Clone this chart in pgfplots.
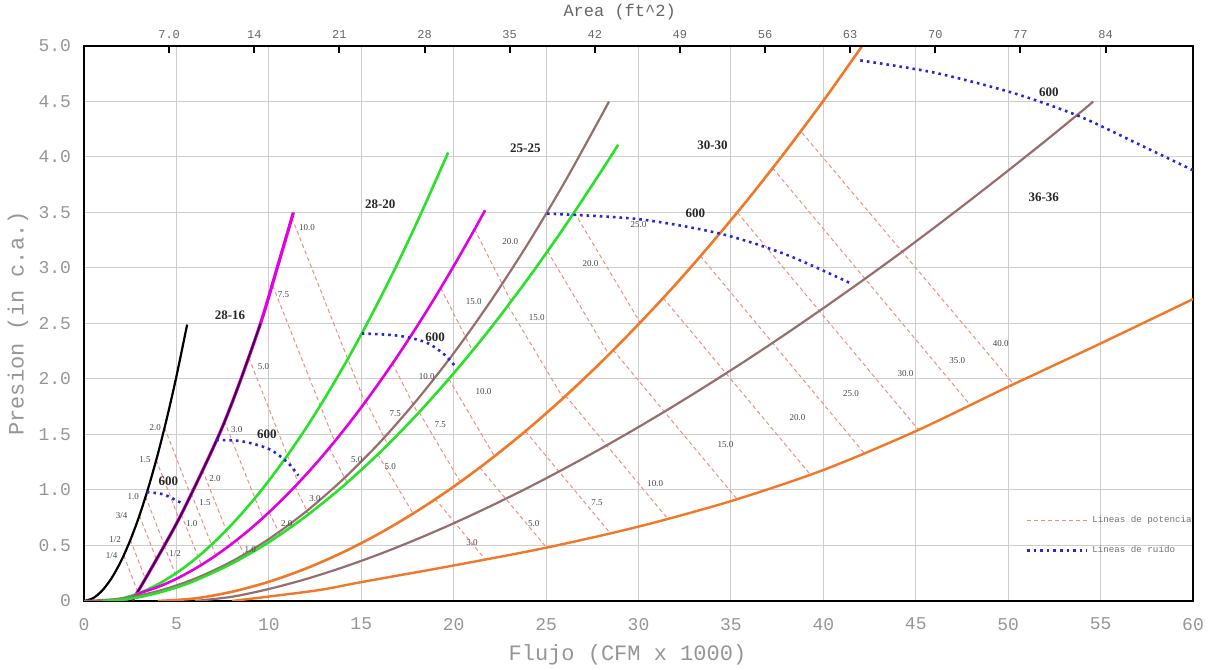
\documentclass[border=0pt]{standalone}
\usepackage{fontspec}
\setmainfont{Liberation Serif}
\newfontfamily\monof{Liberation Mono}
\usepackage{pgfplots}
\pgfplotsset{compat=1.18}
\definecolor{gridc}{RGB}{205,205,205}
\definecolor{tickc}{RGB}{150,150,150}
\definecolor{magc}{RGB}{225,0,225}
\definecolor{darkm}{RGB}{55,10,55}
\definecolor{grnc}{RGB}{40,225,40}
\definecolor{brnc}{RGB}{150,110,110}
\definecolor{orgc}{RGB}{240,120,40}
\definecolor{pwc}{RGB}{240,140,130}
\definecolor{bluc}{RGB}{40,40,210}
\definecolor{lblc}{RGB}{70,70,70}
\tikzset{
 pw/.style={pwc, line width=0.5pt, dash pattern=on 2pt off 1.5pt},
 bl/.style={bluc, line width=1.3pt, dash pattern=on 1.3pt off 2pt},
 pl/.style={font=\fontsize{4.5}{5}\selectfont, text=lblc, inner sep=0.5pt},
 cl/.style={font=\bfseries\fontsize{6.5}{7}\selectfont, text=black!85, inner sep=0.5pt}}
\begin{document}
\begin{tikzpicture}
\begin{axis}[
 scale only axis, width=554.5pt, height=277.5pt,
 xmin=0, xmax=60, ymin=0, ymax=5,
 xtick={0,5,...,60}, ytick={0,0.5,...,5},
 yticklabels={0,0.5,1.0,1.5,2.0,2.5,3.0,3.5,4.0,4.5,5.0},
 grid=major, grid style={gridc, line width=0.5pt},
 major tick length=0pt,
 axis line style={black, line width=1.2pt},
 ticklabel style={font=\monof\fontsize{9}{10}\selectfont, text=tickc},
 /pgf/number format/assume math mode=true,
 xticklabel style={yshift=-5pt},
 yticklabel style={xshift=-3pt},
 xlabel={Flujo (CFM x 1000)}, ylabel={Presion (in c.a.)},
 every axis x label/.style={at={(axis description cs:0.49,-0.097)}, anchor=center,
   font=\monof\fontsize{11}{12}\selectfont, text=tickc},
 every axis y label/.style={at={(axis description cs:-0.0595,0.5)}, rotate=90, anchor=center,
   font=\monof\fontsize{11}{12}\selectfont, text=tickc},
 legend style={at={(axis cs:50.6,0.84)}, anchor=north west, draw=none, fill=none,
   font=\monof\fontsize{4.6}{5.5}\selectfont, text=black!55, row sep=6pt, cells={anchor=west}},
 legend image code/.code={\draw[#1] (0pt,0pt) -- (30pt,0pt);},
]
% power lines group 1
\addplot[pw, forget plot] coordinates {(2.15,0.41)(2.90,0.085)};
\addplot[pw, forget plot] coordinates {(2.51,0.55)(3.32,0.20)};
\addplot[pw, forget plot] coordinates {(3.00,0.77)(3.91,0.38)};
\addplot[pw, forget plot] coordinates {(3.33,0.94)(4.34,0.51)};
\addplot[pw, forget plot] coordinates {(3.91,1.27)(5.14,0.74)};
\addplot[pw, forget plot] coordinates {(4.36,1.56)(5.76,0.96)};
% group 2
\addplot[pw, forget plot] coordinates {(4.33,0.50)(5.05,0.20)};
\addplot[pw, forget plot] coordinates {(5.26,0.78)(6.34,0.33)};
\addplot[pw, forget plot] coordinates {(5.80,0.97)(7.13,0.41)};
\addplot[pw, forget plot] coordinates {(6.41,1.18)(8.00,0.51)};
\addplot[pw, forget plot] coordinates {(7.59,1.62)(9.67,0.75)};
\addplot[pw, forget plot] coordinates {(8.92,2.19)(11.6,1.06)};
\addplot[pw, forget plot] coordinates {(10.21,2.84)(13.55,1.44)};
\addplot[pw, forget plot] coordinates {(11.25,3.45)(15.2,1.79)};
% group 3
\addplot[pw, forget plot] coordinates {(8.27,0.55)(8.71,0.41)};
\addplot[pw, forget plot] coordinates {(10.01,0.80)(10.61,0.60)};
\addplot[pw, forget plot] coordinates {(11.41,1.03)(12.16,0.78)};
\addplot[pw, forget plot] coordinates {(13.27,1.38)(14.22,1.07)};
\addplot[pw, forget plot] coordinates {(15.25,1.80)(16.43,1.41)};
\addplot[pw, forget plot] coordinates {(16.69,2.14)(18.06,1.69)};
\addplot[pw, forget plot] coordinates {(19.30,2.82)(21.0,2.26)};
\addplot[pw, forget plot] coordinates {(21.13,3.35)(23.1,2.70)};
% group 4
\addplot[pw, forget plot] coordinates {(15.90,1.32)(17.8,0.79)};
\addplot[pw, forget plot] coordinates {(18.13,1.70)(20.37,1.07)};
\addplot[pw, forget plot] coordinates {(19.74,2.00)(22.22,1.30)};
\addplot[pw, forget plot] coordinates {(22.94,2.66)(25.92,1.83)};
\addplot[pw, forget plot] coordinates {(25.08,3.15)(28.4,2.22)};
\addplot[pw, forget plot] coordinates {(26.53,3.50)(30.08,2.51)};
% group 5
\addplot[pw, forget plot] coordinates {(19.0,0.92)(21.7,0.376)};
\addplot[pw, forget plot] coordinates {(21.42,1.20)(25.0,0.486)};
\addplot[pw, forget plot] coordinates {(23.88,1.53)(28.46,0.613)};
\addplot[pw, forget plot] coordinates {(26.05,1.85)(31.6,0.737)};
\addplot[pw, forget plot] coordinates {(28.63,2.26)(35.4,0.904)};
\addplot[pw, forget plot] coordinates {(31.34,2.73)(39.3,1.138)};
\addplot[pw, forget plot] coordinates {(33.34,3.11)(42.2,1.334)};
\addplot[pw, forget plot] coordinates {(35.35,3.50)(45.15,1.542)};
\addplot[pw, forget plot] coordinates {(37.26,3.90)(47.95,1.766)};
\addplot[pw, forget plot] coordinates {(38.84,4.22)(50.3,1.953)};
% system curves
\addplot[black, line width=1.1pt, smooth, forget plot] coordinates {(0,0)(0.5,0.026)(1,0.097)(1.5,0.208)(2,0.358)(2.5,0.546)(3,0.770)(3.5,1.031)(4,1.327)(4.5,1.658)(5,2.023)(5.58,2.49)};
\addplot[magc, line width=1.6pt, smooth, forget plot] coordinates {(2.6,0)(3.39,0.22)(5.2,0.76)(7.18,1.45)(8.27,1.9)(9.55,2.5)(10.45,3.0)(11.33,3.5)};
\addplot[darkm, line width=0.9pt, smooth, forget plot] coordinates {(2.6,0)(3.39,0.22)(5.2,0.76)(7.18,1.45)(8.27,1.9)(9.55,2.5)};
\addplot[grnc, line width=1.3pt, smooth, forget plot] coordinates {(1,0)(2,0.021)(3,0.072)(4,0.150)(5,0.252)(6,0.376)(7,0.523)(8,0.690)(9,0.877)(10,1.084)(11,1.311)(12,1.555)(13,1.819)(14,2.101)(15,2.401)(16,2.719)(17,3.053)(18,3.406)(19,3.776)(19.7,4.04)};
\addplot[magc, line width=1.3pt, smooth, forget plot] coordinates {(2.2,0)(3,0.068)(4,0.126)(5,0.200)(6,0.290)(7,0.395)(8,0.515)(9,0.649)(10,0.798)(11,0.960)(12,1.136)(13,1.325)(14,1.528)(15,1.744)(16,1.974)(17,2.215)(18,2.470)(19,2.737)(20,3.017)(21,3.309)(21.7,3.52)};
\addplot[brnc, line width=1.1pt, smooth, forget plot] coordinates {(0,0)(2,0.022)(4,0.089)(6,0.201)(8,0.357)(10,0.558)(12,0.804)(14,1.094)(16,1.428)(18,1.808)(20,2.232)(22,2.701)(24,3.214)(26,3.772)(28,4.375)(28.4,4.50)};
\addplot[grnc, line width=1.3pt, smooth, forget plot] coordinates {(1,0)(2,0.010)(3,0.035)(4,0.073)(5,0.122)(6,0.183)(8,0.337)(10,0.530)(12,0.763)(14,1.032)(16,1.337)(18,1.677)(20,2.051)(22,2.458)(24,2.899)(26,3.372)(28,3.876)(28.9,4.11)};
\addplot[orgc, line width=1.3pt, smooth, forget plot] coordinates {(4,0)(6,0.023)(8,0.083)(10,0.173)(12,0.292)(14,0.438)(16,0.610)(18,0.808)(20,1.030)(22,1.277)(24,1.546)(26,1.839)(28,2.155)(30,2.493)(32,2.851)(34,3.233)(36,3.635)(38,4.060)(40,4.506)(42.1,5.0)};
\addplot[brnc, line width=1.1pt, smooth, forget plot] coordinates {(6,0)(8,0.038)(10,0.108)(12,0.197)(14,0.303)(16,0.423)(18,0.556)(20,0.700)(22,0.855)(24,1.019)(26,1.193)(28,1.376)(30,1.567)(32,1.766)(34,1.973)(36,2.187)(38,2.409)(40,2.638)(42,2.873)(44,3.114)(46,3.363)(48,3.618)(50,3.878)(52,4.143)(54,4.415)(54.6,4.50)};
\addplot[orgc, line width=1.2pt, smooth, forget plot] coordinates {(8,0)(10,0.04)(12.78,0.1)(15,0.17)(20,0.32)(25,0.48)(30,0.67)(35,0.90)(40,1.18)(45,1.53)(50,1.93)(55,2.32)(60,2.72)};
% noise lines
\addplot[bl, smooth, forget plot] coordinates {(3.4,0.98)(4.3,0.96)(5.3,0.88)};
\addplot[bl, smooth, forget plot] coordinates {(7.15,1.45)(8.5,1.44)(10,1.37)(11,1.25)(11.6,1.13)};
\addplot[bl, smooth, forget plot] coordinates {(15.03,2.41)(17,2.39)(18.5,2.33)(19.5,2.22)(20.1,2.11)};
\addplot[bl, smooth, forget plot] coordinates {(25.05,3.49)(30,3.44)(34.4,3.31)(38,3.12)(41.5,2.86)};
\addplot[bl, smooth, forget plot] coordinates {(42.0,4.87)(46,4.76)(50.2,4.58)(53.8,4.37)(57,4.12)(60,3.88)};
% legend
\addlegendimage{pw}
\addlegendentry{Lineas de potencia}
\addlegendimage{bl}
\addlegendentry{Lineas de ruido}
% power labels
\node[pl] at (axis cs:1.5,0.41) {1/4};
\node[pl] at (axis cs:1.68,0.55) {1/2};
\node[pl] at (axis cs:2.04,0.77) {3/4};
\node[pl] at (axis cs:2.67,0.94) {1.0};
\node[pl] at (axis cs:3.3,1.27) {1.5};
\node[pl] at (axis cs:3.85,1.56) {2.0};
\node[pl] at (axis cs:4.93,0.43) {1/2};
\node[pl] at (axis cs:5.83,0.70) {1.0};
\node[pl] at (axis cs:6.55,0.89) {1.5};
\node[pl] at (axis cs:7.09,1.105) {2.0};
\node[pl] at (axis cs:8.27,1.54) {3.0};
\node[pl] at (axis cs:9.71,2.11) {5.0};
\node[pl] at (axis cs:10.79,2.76) {7.5};
\node[pl] at (axis cs:12.06,3.36) {10.0};
\node[pl] at (axis cs:8.99,0.46) {1.0};
\node[pl] at (axis cs:10.97,0.70) {2.0};
\node[pl] at (axis cs:12.5,0.925) {3.0};
\node[pl] at (axis cs:14.76,1.27) {5.0};
\node[pl] at (axis cs:16.84,1.69) {7.5};
\node[pl] at (axis cs:18.55,2.02) {10.0};
\node[pl] at (axis cs:21.08,2.70) {15.0};
\node[pl] at (axis cs:23.06,3.24) {20.0};
\node[pl] at (axis cs:16.57,1.21) {5.0};
\node[pl] at (axis cs:19.27,1.59) {7.5};
\node[pl] at (axis cs:21.62,1.886) {10.0};
\node[pl] at (axis cs:24.5,2.55) {15.0};
\node[pl] at (axis cs:27.4,3.04) {20.0};
\node[pl] at (axis cs:30.0,3.39) {25.0};
\node[pl] at (axis cs:20.99,0.53) {3.0};
\node[pl] at (axis cs:24.33,0.70) {5.0};
\node[pl] at (axis cs:27.76,0.89) {7.5};
\node[pl] at (axis cs:30.9,1.06) {10.0};
\node[pl] at (axis cs:34.7,1.41) {15.0};
\node[pl] at (axis cs:38.6,1.65) {20.0};
\node[pl] at (axis cs:41.5,1.87) {25.0};
\node[pl] at (axis cs:44.45,2.05) {30.0};
\node[pl] at (axis cs:47.25,2.17) {35.0};
\node[pl] at (axis cs:49.6,2.32) {40.0};
% curve labels
\node[cl] at (axis cs:7.9,2.57) {28-16};
\node[cl] at (axis cs:16.03,3.57) {28-20};
\node[cl] at (axis cs:23.88,4.08) {25-25};
\node[cl] at (axis cs:34.0,4.11) {30-30};
\node[cl] at (axis cs:51.92,3.64) {36-36};
\node[cl] at (axis cs:4.57,1.08) {600};
\node[cl] at (axis cs:9.89,1.50) {600};
\node[cl] at (axis cs:19.0,2.38) {600};
\node[cl] at (axis cs:33.08,3.49) {600};
\node[cl] at (axis cs:52.2,4.58) {600};
\end{axis}
\begin{axis}[
 scale only axis, width=554.5pt, height=277.5pt,
 xmin=0, xmax=91.19, ymin=0, ymax=5,
 axis x line*=top, hide y axis,
 xtick={7,14,...,84},
 xticklabels={7.0,14,21,28,35,42,49,56,63,70,77,84},
 tick align=inside, major tick length=3.5pt,
 tick style={black, line width=1pt},
 axis line style={black, line width=1.2pt},
 ticklabel style={font=\monof\fontsize{6}{7}\selectfont, text=black!60},
 xlabel={Area (ft\textasciicircum 2)},
 every axis x label/.style={at={(axis description cs:0.483,1.061)}, anchor=center,
   font=\monof\fontsize{8.5}{9}\selectfont, text=black!60},
]
\addplot[draw=none, forget plot] coordinates {(0,0)(91,5)};
\end{axis}
\pgfresetboundingbox
\path[use as bounding box] (current axis.south west) ++(-42pt,-34.5pt) rectangle ([shift={(9pt,23pt)}]current axis.north east);
\end{tikzpicture}
\end{document}
